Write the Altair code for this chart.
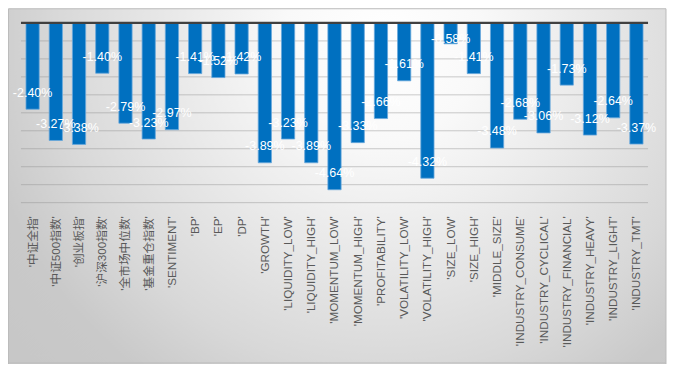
import altair as alt
import pandas as pd

categories = ["'中证全指'", "'中证500指数'", "'创业板指'", "'沪深300指数'", "'全市场中位数'",
              "'基金重仓指数'", "'SENTIMENT'", "'BP'", "'EP'", "'DP'", "'GROWTH'",
              "'LIQUIDITY_LOW'", "'LIQUIDITY_HIGH'", "'MOMENTUM_LOW'", "'MOMENTUM_HIGH'",
              "'PROFITABILITY'", "'VOLATILITY_LOW'", "'VOLATILITY_HIGH'", "'SIZE_LOW'",
              "'SIZE_HIGH'", "'MIDDLE_SIZE'", "'INDUSTRY_CONSUME'", "'INDUSTRY_CYCLICAL'",
              "'INDUSTRY_FINANCIAL'", "'INDUSTRY_HEAVY'", "'INDUSTRY_LIGHT'", "'INDUSTRY_TMT'"]
values = [-2.40, -3.27, -3.38, -1.40, -2.79, -3.23, -2.97, -1.41, -1.52, -1.42, -3.89,
          -3.23, -3.89, -4.64, -3.33, -2.66, -1.61, -4.32, -0.58, -1.41, -3.48, -2.68,
          -3.06, -1.73, -3.12, -2.64, -3.37]
grid_values = [-5.0, -4.5, -4.0, -3.5, -3.0, -2.5, -2.0, -1.5, -1.0, -0.5]

W, H = 628, 180
PAD = {"left": 13, "top": 14.7, "right": 20, "bottom": 161}
TOTAL_W = W + PAD["left"] + PAD["right"]

df = pd.DataFrame({"cat": categories, "value": values})
df["label"] = [f"{v:.2f}%" for v in values]
grid_df = pd.DataFrame({"g": grid_values})

yscale = alt.Scale(domain=[-5, 0], nice=False, zero=False)
xscale = alt.Scale(paddingInner=0.43, paddingOuter=0.215)

gradient = {
    "gradient": "radial",
    "x1": 0.57, "y1": 0.05, "r1": 0,
    "x2": 0.57, "y2": 0.05, "r2": 1,
    "stops": [
        {"offset": 0.0, "color": "#ffffff"},
        {"offset": 0.15, "color": "#f9f9f9"},
        {"offset": 0.35, "color": "#e6e6e6"},
        {"offset": 0.5, "color": "#d8d8d8"},
        {"offset": 0.62, "color": "#c9c9c9"},
        {"offset": 1.0, "color": "#c2c2c2"},
    ],
}

one = pd.DataFrame({"k": [0]})

# gradient fill (square box so the radial gradient is circular; clipped by the view)
bg = alt.Chart(one).mark_rect(fill=gradient, stroke="#bcbcbc", strokeWidth=1).encode(
    x=alt.value(-PAD["left"] + 0.5),
    x2=alt.value(W + PAD["right"] - 2),
    y=alt.value(-PAD["top"] + 0.5),
    y2=alt.value(-PAD["top"] + TOTAL_W),
)

frame = alt.Chart(one).mark_rule(color="#bcbcbc", strokeWidth=1).encode(
    x=alt.value(-PAD["left"]),
    x2=alt.value(W + PAD["right"] - 2),
    y=alt.value(H + PAD["bottom"] - 0.5),
)

grid = alt.Chart(grid_df).mark_rule(color="#8c8c8c", opacity=0.45, strokeWidth=1).encode(
    y=alt.Y("g:Q", scale=yscale,
            axis=alt.Axis(labels=False, ticks=False, domain=False, grid=False, title=None))
)

base = alt.Chart(df)

bars = base.mark_bar(color="#0070c0", stroke="#6aa8dc", strokeWidth=0.8).encode(
    x=alt.X("cat:N", sort=categories, scale=xscale, title=None,
            axis=alt.Axis(labelAngle=-90, labelPadding=13, domain=False, ticks=False,
                          labelColor="#595959", labelFontSize=11.7,
                          labelFont="Liberation Sans, Noto Sans CJK SC",
                          labelLimit=200, zindex=1)),
    y=alt.Y("value:Q", scale=yscale,
            axis=alt.Axis(labels=False, ticks=False, domain=False, grid=False, title=None)),
)

labels = base.transform_calculate(
    label_y="min(datum.value + 0.46, -0.46)"
).mark_text(color="white", fontSize=12.5, font="Liberation Sans",
            align="center", baseline="middle").encode(
    x=alt.X("cat:N", sort=categories, scale=xscale),
    y=alt.Y("label_y:Q", scale=yscale),
    text="label:N",
)

top_line = alt.Chart(one).mark_rule(color="#404040", strokeWidth=2.2).encode(
    y=alt.datum(0, scale=yscale)
)

chart = alt.layer(bg, frame, grid, bars, top_line, labels).properties(
    width=W, height=H,
    autosize=alt.AutoSizeParams(type="none"),
    padding=PAD,
    background="white",
).configure_view(stroke=None)

chart.save("out.html", embed_options={"renderer": "svg", "actions": False})
